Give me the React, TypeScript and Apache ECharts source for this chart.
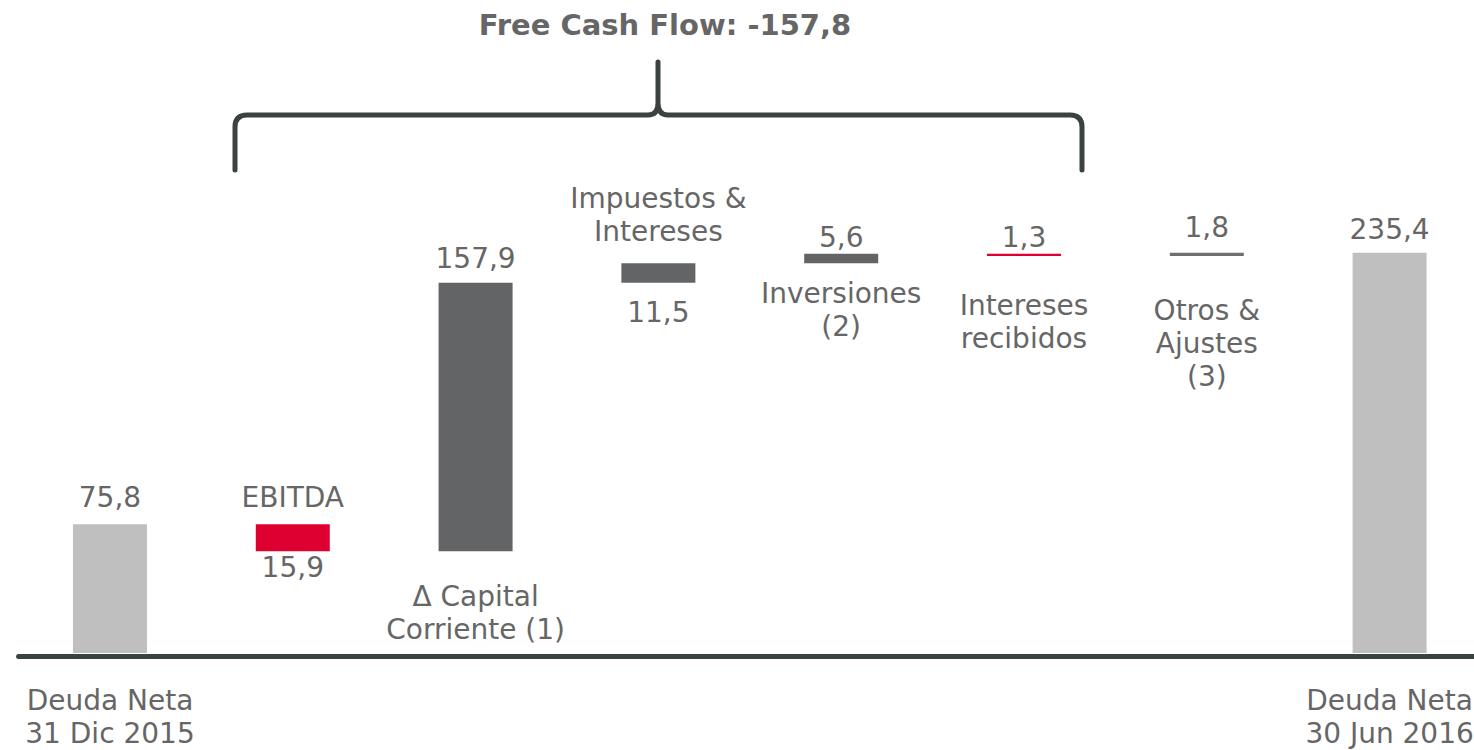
import React, { useEffect, useRef } from "react";
import * as echarts from "echarts";

// ---------- data ----------
const categories = [
  "Deuda Neta\n31 Dic 2015",
  "EBITDA",
  "Δ Capital\nCorriente (1)",
  "Impuestos &\nIntereses",
  "Inversiones\n(2)",
  "Intereses\nrecibidos",
  "Otros &\nAjustes\n(3)",
  "Deuda Neta\n30 Jun 2016",
];
const changes = [75.8, -15.9, 157.9, 11.5, 5.6, -1.3, 1.8, 235.4];
const kinds = ["total", "change", "change", "change", "change", "change", "change", "total"];
const braceTitle = "Free Cash Flow: -157,8";

// ---------- styles ----------
const FONT = "'DejaVu Sans', Verdana, sans-serif";
const TEXT = "#666666";
const COLORS = {
  total: "#bfbfbf",
  up: "#636466",
  down: "#df0032",
  other: "#6f6f6f",
};
const barColors = [COLORS.total, COLORS.down, COLORS.up, COLORS.up, COLORS.up, COLORS.down, COLORS.other, COLORS.total];
// where each name / value label sits relative to its bar
const labelLayout = [
  { name: "axis", nd: 0, value: "top", vd: 10 },
  { name: "top", nd: 10, value: "bottom", vd: 0 },
  { name: "bottom", nd: 29, value: "top", vd: 8 },
  { name: "top", nd: 15, value: "bottom", vd: 13 },
  { name: "bottom", nd: 14, value: "top", vd: 0 },
  { name: "bottom", nd: 33, value: "top", vd: 0 },
  { name: "bottom", nd: 38, value: "top", vd: 9 },
  { name: "axis", nd: 0, value: "top", vd: 7 },
];

const BRACE_D =
  "M235 170 L235 127 Q235 115 247 115 L648 115 Q658 115 658 103 L658 62 M658 103 Q658 115 668 115 L1070 115 Q1082 115 1082 127 L1082 170";

let braceRegistered = false;

const fmt = (v: number) => Math.abs(v).toFixed(1).replace(".", ",");

export default function App() {
  const ref = useRef<HTMLDivElement>(null);

  useEffect(() => {
    if (!ref.current) return;
    if (!braceRegistered) {
      echarts.graphic.registerShape("brace", echarts.graphic.extendPath(BRACE_D, {}));
      braceRegistered = true;
    }
    const chart = echarts.init(ref.current, null, { renderer: "svg" });

    // waterfall geometry
    const bases: number[] = [];
    const heights: number[] = [];
    let running = 0;
    changes.forEach((v, i) => {
      if (kinds[i] === "total") {
        bases.push(0);
        heights.push(v);
        running = v;
      } else if (v >= 0) {
        bases.push(running);
        heights.push(v);
        running += v;
      } else {
        running += v;
        bases.push(running);
        heights.push(-v);
      }
    });

    const labelBase = {
      fontFamily: FONT,
      fontSize: 28,
      lineHeight: 33,
      color: TEXT,
    };

    const barData = heights.map((h, i) => ({
      value: h,
      itemStyle: { color: barColors[i] },
      label: {
        show: true,
        position: labelLayout[i].value,
        distance: labelLayout[i].vd,
        formatter: () => fmt(changes[i]),
        ...labelBase,
      },
    }));

    const nameData: any[] = [];
    categories.forEach((c, i) => {
      const L = labelLayout[i];
      if (L.name === "axis") return;
      const anchor = L.name === "top" ? bases[i] + heights[i] : bases[i];
      nameData.push({
        value: [i, anchor],
        name: c,
        label: {
          show: true,
          position: L.name,
          distance: L.nd,
          formatter: () => c,
          ...labelBase,
        },
      });
    });

    chart.setOption({
      animation: false,
      backgroundColor: "#ffffff",
      grid: { left: 18.57, right: 0, top: 143, height: 515 },
      xAxis: {
        type: "category",
        data: categories,
        offset: 3,
        axisLine: { onZero: false, lineStyle: { color: "#3a4340", width: 5 } },
        axisTick: { show: false },
        axisLabel: {
          interval: 0,
          margin: 28,
          ...labelBase,
          formatter: (v: string, idx: number) =>
            labelLayout[idx] && labelLayout[idx].name === "axis" ? v : "",
        },
        splitLine: { show: false },
      },
      yAxis: { type: "value", min: 0, max: 300, show: false, splitLine: { show: false } },
      series: [
        {
          type: "bar",
          stack: "wf",
          barWidth: 74,
          itemStyle: { color: "transparent" },
          data: bases,
          silent: true,
        },
        {
          type: "bar",
          stack: "wf",
          barWidth: 74,
          data: barData,
        },
        {
          type: "scatter",
          symbolSize: 0,
          itemStyle: { color: "transparent", opacity: 1 },
          data: nameData,
          silent: true,
        },
      ],
      graphic: [
        {
          type: "brace",
          x: 0,
          y: 0,
          style: { fill: "none", stroke: "#3a4340", lineWidth: 5, lineCap: "round", lineJoin: "round" },
        },
        {
          type: "text",
          x: 665,
          y: 25,
          style: {
            text: braceTitle,
            fontFamily: FONT,
            fontSize: 29,
            fontWeight: "bold",
            fill: "#666666",
            align: "center",
            verticalAlign: "middle",
          },
        },
      ],
    });

    return () => chart.dispose();
  }, []);

  return (
    <div style={{ position: "fixed", left: 0, top: 0, width: 1474, height: 750, overflow: "hidden", background: "#fff" }}>
      <div ref={ref} style={{ position: "absolute", left: 0, top: 0, width: 1481.43, height: 750 }} />
    </div>
  );
}
